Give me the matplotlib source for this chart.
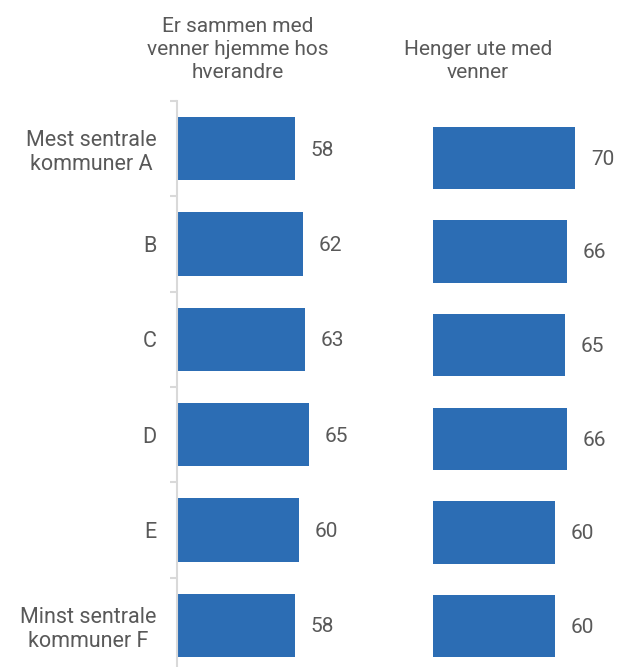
import numpy as np
import matplotlib
matplotlib.use('Agg')
import matplotlib.pyplot as plt

plt.rcParams['font.family'] = ['Roboto', 'DejaVu Sans']

# data
categories = ['Mest sentrale\nkommuner A', 'B', 'C', 'D', 'E', 'Minst sentrale\nkommuner F']
hjemme = [58, 62, 63, 65, 60, 58]
ute = [70, 66, 65, 66, 60, 60]
titles = ['Er sammen med\nvenner hjemme hos\nhverandre', 'Henger ute med\nvenner']

bar_color = '#2C6DB4'
text_color = '#595959'
spine_color = '#D9D9D9'

W, H = 629, 667
fig = plt.figure(figsize=(W / 100, H / 100), dpi=100)

px_per_unit = 2.03
y = np.arange(len(categories))


def make_axes(left, top, width, bottom=673):
    return fig.add_axes([left / W, (H - bottom) / H, width / W, (bottom - top) / H])


ax1 = make_axes(177, 101, 200)
ax2 = make_axes(433, 111, 190)

for ax, vals, wpx in [(ax1, hjemme, 200), (ax2, ute, 190)]:
    ax.barh(y, vals, height=0.665, color=bar_color)
    ax.set_xlim(0, wpx / px_per_unit)
    ax.set_ylim(len(categories) - 0.5, -0.5)
    ax.set_xticks([])
    for s in ['top', 'right', 'bottom']:
        ax.spines[s].set_visible(False)
    for yi, v in zip(y, vals):
        ax.annotate(str(v), (v, yi), xytext=(11.5, -1), textcoords='offset points',
                    ha='left', va='center', fontsize=15, color=text_color)

# left panel: axis line, ticks between categories, category labels
ax1.spines['left'].set_color(spine_color)
ax1.spines['left'].set_linewidth(1.5)
ax1.set_yticks(y)
ax1.set_yticklabels(categories, fontsize=15.5, color=text_color, ha='right', multialignment='center')
ax1.tick_params(axis='y', which='major', length=0, pad=14.5)
ax1.set_yticks(np.arange(-0.5, len(categories), 1.0), minor=True)
ax1.tick_params(axis='y', which='minor', length=5, width=1.5, color=spine_color)

# right panel: no axis
ax2.spines['left'].set_visible(False)
ax2.set_yticks([])

# column titles
fig.text(238 / W, 1 - 82 / H, titles[0], ha='center', va='bottom', fontsize=15,
         color=text_color, linespacing=1.25)
fig.text(478 / W, 1 - 82 / H, titles[1], ha='center', va='bottom', fontsize=15,
         color=text_color, linespacing=1.25)

fig.savefig('out.png', dpi=100)
